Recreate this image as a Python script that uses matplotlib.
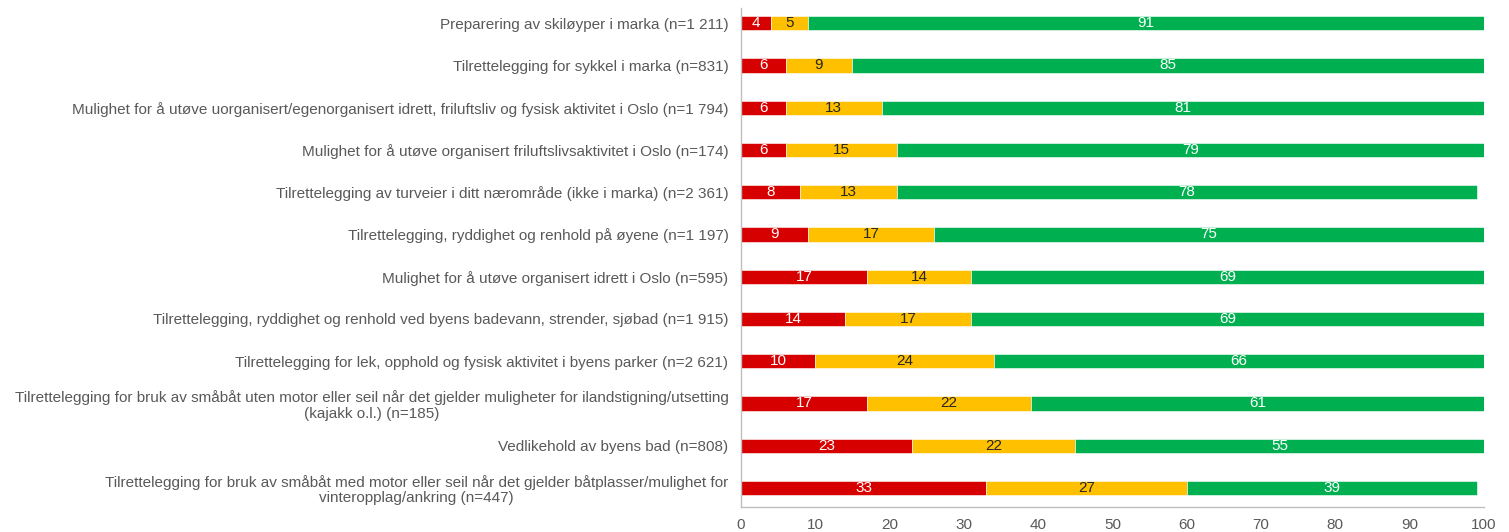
import matplotlib
matplotlib.use("Agg")
import matplotlib.pyplot as plt
import numpy as np

plt.rcParams['font.family'] = ['Liberation Sans', 'DejaVu Sans']

categories = [
    "Preparering av skiløyper i marka (n=1 211)",
    "Tilrettelegging for sykkel i marka (n=831)",
    "Mulighet for å utøve uorganisert/egenorganisert idrett, friluftsliv og fysisk aktivitet i Oslo (n=1 794)",
    "Mulighet for å utøve organisert friluftslivsaktivitet i Oslo (n=174)",
    "Tilrettelegging av turveier i ditt nærområde (ikke i marka) (n=2 361)",
    "Tilrettelegging, ryddighet og renhold på øyene (n=1 197)",
    "Mulighet for å utøve organisert idrett i Oslo (n=595)",
    "Tilrettelegging, ryddighet og renhold ved byens badevann, strender, sjøbad (n=1 915)",
    "Tilrettelegging for lek, opphold og fysisk aktivitet i byens parker (n=2 621)",
    "Tilrettelegging for bruk av småbåt uten motor eller seil når det gjelder muligheter for ilandstigning/utsetting\n(kajakk o.l.) (n=185)",
    "Vedlikehold av byens bad (n=808)",
    "Tilrettelegging for bruk av småbåt med motor eller seil når det gjelder båtplasser/mulighet for\nvinteropplag/ankring (n=447)",
]
red_vals = [4, 6, 6, 6, 8, 9, 17, 14, 10, 17, 23, 33]
yellow_vals = [5, 9, 13, 15, 13, 17, 14, 17, 24, 22, 22, 27]
green_vals = [91, 85, 81, 79, 78, 75, 69, 69, 66, 61, 55, 39]
x_ticks = [0, 10, 20, 30, 40, 50, 60, 70, 80, 90, 100]

colors = ["#D70000", "#FFC000", "#00B050"]
text_colors = ["white", "#262626", "white"]
grey = "#595959"
fs = 11.0

fig = plt.figure(figsize=(15.09, 5.32), dpi=100)
ax = fig.add_axes([0.491, 0.047, 0.4924, 0.938])

y = np.arange(len(categories))
left = np.zeros(len(categories))
for vals, c, tc in zip([red_vals, yellow_vals, green_vals], colors, text_colors):
    vals = np.array(vals, dtype=float)
    ax.barh(y, vals, left=left, height=0.34, color=c,
            edgecolor="white", linewidth=0.4)
    for yi, l, v in zip(y, left, vals):
        cx = (l + min(l + v, 100)) / 2
        ax.text(cx, yi, f"{int(v)}", ha="center", va="center",
                color=tc, fontsize=fs)
    left = left + vals

ax.set_xlim(0, 100)
ax.set_ylim(len(categories) - 0.55, -0.36)
ax.set_yticks(y)
ax.set_yticklabels(categories, fontsize=fs, color=grey, ha="right",
                   multialignment="center", linespacing=1.1)
ax.set_xticks(x_ticks)
ax.set_xticklabels([str(t) for t in x_ticks], fontsize=fs, color=grey)
ax.tick_params(axis="both", length=0)
ax.tick_params(axis="y", pad=9)
ax.tick_params(axis="x", pad=8)
for s in ["top", "right"]:
    ax.spines[s].set_visible(False)
for s in ["left", "bottom"]:
    ax.spines[s].set_color("#BFBFBF")
    ax.spines[s].set_linewidth(1.0)

fig.savefig("out.png", dpi=100)
